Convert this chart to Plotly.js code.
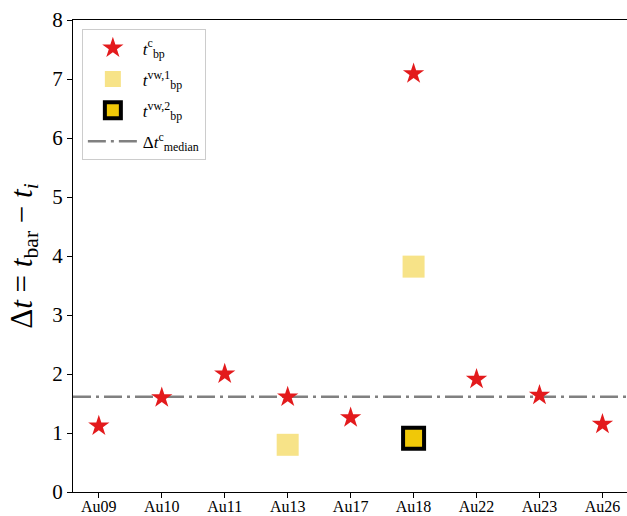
<!DOCTYPE html>
<html>
<head>
<meta charset="utf-8">
<script src="https://cdn.plot.ly/plotly-3.0.1.min.js"></script>
<style>html,body{margin:0;padding:0;overflow:hidden;background:#fff;}</style>
</head>
<body>
<div id="chart" style="width:627px;height:516px;"></div>
<script>
// ---- data ----
const categories = ["Au09","Au10","Au11","Au13","Au17","Au18","Au22","Au23","Au26"];
const tbpC = [1.12, 1.60, 2.00, 1.61, 1.26, 7.09, 1.91, 1.64, 1.15];
const vw1Cats = ["Au13","Au18"];
const vw1Vals = [0.80, 3.82];
const vw2Cats = ["Au18"];
const vw2Vals = [0.91];
const medianC = 1.614;
const yTicks = [0,1,2,3,4,5,6,7,8];

const serif = "Liberation Serif, Times New Roman, serif";

const traces = [
  {
    x: categories, y: tbpC, type: "scatter", mode: "markers",
    name: "<i>t</i><sup>c</sup><sub>bp</sub>",
    marker: {symbol: "star", size: 16, color: "#e31a1c", line: {width: 0}},
    legendrank: 1, legendgroup: "a"
  },
  {
    x: vw1Cats, y: vw1Vals, type: "scatter", mode: "markers",
    name: "<i>t</i><sup>vw,1</sup><sub>bp</sub>",
    marker: {symbol: "square", size: 22, color: "#f7e388", line: {width: 0}},
    legendrank: 2, legendgroup: "b"
  },
  {
    x: vw2Cats, y: vw2Vals, type: "scatter", mode: "markers",
    name: "<i>t</i><sup>vw,2</sup><sub>bp</sub>",
    marker: {symbol: "square", size: 21, color: "#f0c808", line: {width: 4, color: "#000"}},
    legendrank: 3, legendgroup: "c"
  },
  {
    x: [null], y: [null], type: "scatter", mode: "lines",
    name: "Δ<i>t</i><sup>c</sup><sub>median</sub>",
    line: {color: "#808080", width: 2.5, dash: "18px,5px,3px,5px"},
    legendrank: 4, legendgroup: "d"
  }
];

const layout = {
  width: 627, height: 516,
  margin: {l: 73, r: 0, t: 20, b: 24},
  paper_bgcolor: "#fff", plot_bgcolor: "#fff",
  showlegend: true,
  font: {family: serif, color: "#000"},
  xaxis: {
    type: "category", categoryorder: "array", categoryarray: categories,
    range: [-0.41, 8.39],
    showline: true, linecolor: "#000", linewidth: 1, mirror: true,
    ticks: "outside", ticklen: 5, tickcolor: "#000", tickwidth: 1,
    ticklabelstandoff: -5,
    showgrid: false, zeroline: false,
    tickfont: {family: serif, size: 16, color: "#000"}
  },
  yaxis: {
    range: [0, 8], tickvals: yTicks, ticktext: yTicks.map(String),
    showline: true, linecolor: "#000", linewidth: 1,
    ticks: "outside", ticklen: 5, tickcolor: "#000", tickwidth: 1,
    showgrid: false, zeroline: false,
    tickfont: {family: serif, size: 21, color: "#000"},
    title: {text: "Δ<i>t</i> = <i>t</i><sub>bar</sub> − <i>t<sub>i</sub></i>", font: {family: serif, size: 31, color: "#000"}, standoff: 10}
  },
  shapes: [{
    type: "line", xref: "paper", x0: 0, x1: 1, yref: "y", y0: medianC, y1: medianC,
    line: {color: "#808080", width: 2.5, dash: "18px,5px,3px,5px"}, layer: "below"
  }],
  legend: {
    x: 0.016, y: 0.98, xanchor: "left", yanchor: "top",
    bgcolor: "#fff", bordercolor: "#cccccc", borderwidth: 1,
    font: {family: serif, size: 17, color: "#000"},
    itemwidth: 50, tracegroupgap: 6, traceorder: "grouped"
  }
};

Plotly.newPlot("chart", traces, layout, {displayModeBar: false, staticPlot: true});
</script>
</body>
</html>
